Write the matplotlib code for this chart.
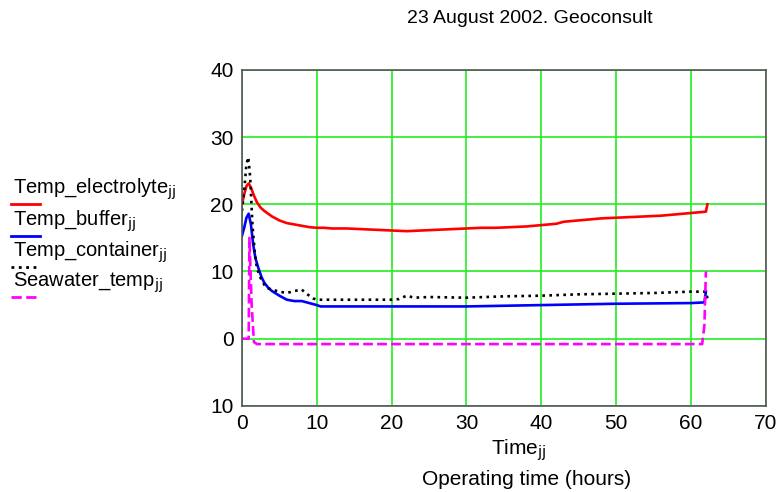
import numpy as np
import matplotlib.pyplot as plt
from matplotlib.lines import Line2D

plt.rcParams['font.family'] = ['Liberation Sans', 'DejaVu Sans']

# (czas w godzinach)
t_el = [0, 0.3, 0.6, 0.9, 1.2, 1.6, 2, 2.5, 3, 3.5, 4, 5, 6, 7, 8, 9, 10, 11, 12, 14, 16, 18, 20,
        22, 24, 26, 28, 30, 32, 34, 36, 38, 40, 42, 43, 44, 46, 48, 50, 52, 54, 56, 58, 60, 62, 62.2]
electrolyte = [20, 21.5, 22.7, 23.1, 22.5, 21.3, 20.3, 19.5, 19, 18.6, 18.2, 17.6, 17.2, 17.0, 16.8,
               16.6, 16.5, 16.5, 16.4, 16.4, 16.3, 16.2, 16.1, 16.0, 16.1, 16.2, 16.3, 16.4, 16.5,
               16.5, 16.6, 16.7, 16.9, 17.1, 17.4, 17.5, 17.7, 17.9, 18.0, 18.1, 18.2, 18.3, 18.5,
               18.7, 18.9, 20.0]

t_bu = [0, 0.3, 0.6, 0.9, 1.2, 1.5, 1.8, 2.2, 2.6, 3, 3.5, 4, 5, 6, 7, 8, 9, 10, 10.5, 12, 20, 30,
        40, 50, 60, 61.8, 62]
buffer = [15.3, 16.5, 18.0, 18.6, 17.0, 14.0, 12.0, 10.5, 9.2, 8.3, 7.6, 7.1, 6.4, 5.8, 5.6, 5.6,
          5.3, 5.0, 4.8, 4.8, 4.8, 4.8, 5.0, 5.2, 5.3, 5.4, 7.0]

t_co = [0, 0.3, 0.6, 0.85, 1.1, 1.4, 1.7, 2, 2.5, 3, 3.5, 4, 5, 6, 7, 8, 8.5, 9.5, 10, 15, 20, 21,
        22, 23, 25, 30, 35, 40, 45, 50, 55, 60, 62, 62.2]
container = [19, 22, 26, 27, 24, 17, 13, 10.5, 9, 8, 7.5, 7.3, 7.0, 6.8, 7.1, 7.3, 6.8, 6.0, 5.8,
             5.8, 5.8, 5.9, 6.4, 6.1, 6.2, 6.1, 6.3, 6.4, 6.6, 6.7, 6.8, 7.0, 7.0, 6.0]

t_sw = [0, 0.9, 1.0, 1.3, 1.6, 2, 61.5, 61.8, 62]
seawater = [0, 0, 15, 5, -0.5, -0.8, -0.8, 2, 10]

labels = ['Temp_electrolyte', 'Temp_buffer', 'Temp_container', 'Seawater_temp']
colors = ['red', 'blue', 'black', 'magenta']
styles = ['-', '-', ':', '--']

fig = plt.figure(figsize=(7.83, 4.92), dpi=100)
ax = fig.add_axes([0.309, 0.175, 0.669, 0.683])

series = [(t_el, electrolyte), (t_bu, buffer), (t_co, container), (t_sw, seawater)]
for (t, v), c, ls in zip(series, colors, styles):
    ax.plot(t, v, color=c, ls=ls, lw=1.9)

ax.set_xlim(0, 70)
ax.set_ylim(-10, 40)
ax.set_xticks(range(0, 71, 10))
ax.set_yticks(range(-10, 41, 10))
ax.set_yticklabels(['10', '0', '10', '20', '30', '40'])
ax.tick_params(length=0, labelsize=15, pad=6)
ax.grid(True, color='#22ee22', lw=1.2)
for s in ax.spines.values():
    s.set_color('#555555')
    s.set_linewidth(1.2)

fig.text(0.663, 0.085, 'Time$_{\\mathrm{jj}}$', ha='center', va='center', fontsize=15)
fig.text(0.673, 0.025, 'Operating time (hours)', ha='center', va='center', fontsize=15)
fig.text(0.677, 0.963, '23 August 2002. Geoconsult', ha='center', va='center', fontsize=14)

# legenda po lewej stronie
line_px = [204, 236, 267, 297]
for lab, c, ls, py in zip(labels, colors, styles, line_px):
    y = 1 - py / 492
    fig.text(0.016, y + 0.029, lab + '$_{\\mathrm{jj}}$', ha='left', va='center', fontsize=14.5)
    fig.add_artist(Line2D([0.014, 0.051], [y, y], color=c, ls=ls, lw=2,
                          transform=fig.transFigure))

fig.savefig('out.png', dpi=100)
